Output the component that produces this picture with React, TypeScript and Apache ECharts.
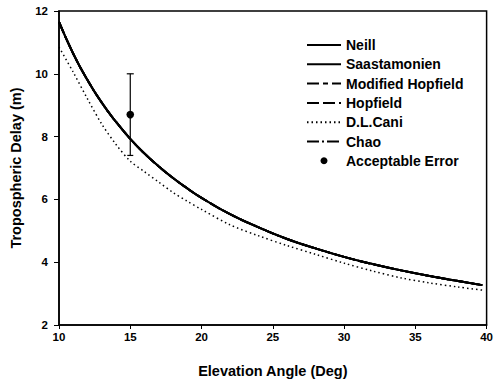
import React, { useEffect, useRef } from "react";
import * as echarts from "echarts";

// Elevation angles (deg) at which the curves were read
const angles = [10, 11, 12, 13, 14, 15, 16, 17, 18, 19, 20, 22, 24, 26, 28, 30, 32, 34, 36, 38, 39.7];
// Neill, Saastamonien, Modified Hopfield, Hopfield and Chao coincide on the plot
const neill = [11.65, 10.64, 9.8, 9.08, 8.47, 7.93, 7.46, 7.05, 6.68, 6.35, 6.05, 5.53, 5.11, 4.74, 4.44, 4.17, 3.94, 3.74, 3.56, 3.4, 3.27];
const saastamonien = [11.65, 10.64, 9.8, 9.08, 8.47, 7.93, 7.46, 7.05, 6.68, 6.35, 6.05, 5.53, 5.11, 4.74, 4.44, 4.17, 3.94, 3.74, 3.56, 3.4, 3.27];
const modifiedHopfield = [11.65, 10.64, 9.8, 9.08, 8.47, 7.93, 7.46, 7.05, 6.68, 6.35, 6.05, 5.53, 5.11, 4.74, 4.44, 4.17, 3.94, 3.74, 3.56, 3.4, 3.27];
const hopfield = [11.65, 10.64, 9.8, 9.08, 8.47, 7.93, 7.46, 7.05, 6.68, 6.35, 6.05, 5.53, 5.11, 4.74, 4.44, 4.17, 3.94, 3.74, 3.56, 3.4, 3.27];
const chao = [11.65, 10.64, 9.8, 9.08, 8.47, 7.93, 7.46, 7.05, 6.68, 6.35, 6.05, 5.53, 5.11, 4.74, 4.44, 4.17, 3.94, 3.74, 3.56, 3.4, 3.27];
const dlCani = [10.85, 10.05, 9.2, 8.4, 7.75, 7.22, 6.88, 6.55, 6.22, 5.94, 5.68, 5.19, 4.84, 4.53, 4.25, 3.97, 3.72, 3.5, 3.34, 3.21, 3.11];

// Acceptable error at 15 deg
const errAngle = [15];
const errCenter = [8.7];
const errLow = [7.4];
const errHigh = [10.0];

const xTicks = { min: 10, max: 40, interval: 5 };
const yTicks = { min: 2, max: 12, interval: 2 };

const FONT = "Liberation Sans";

function pairs(ys: number[]) {
  return angles.map((a, i) => [a, ys[i]]);
}

export default function App() {
  const ref = useRef<HTMLDivElement>(null);
  useEffect(() => {
    if (!ref.current) return;
    document.body.style.margin = "0";
    const chart = echarts.init(ref.current, undefined, { renderer: "svg" });
    const solid = (name: string, data: number[], type: any) => ({
      name,
      type: "line",
      data: pairs(data),
      symbol: "none",
      smooth: true,
      lineStyle: { color: "#000", width: 2, type },
      itemStyle: { color: "transparent" },
    });
    chart.setOption({
      animation: false,
      backgroundColor: "#fff",
      textStyle: { fontFamily: FONT },
      grid: {
        left: 56,
        right: 6,
        top: 11,
        bottom: 57,
        show: true,
        borderColor: "#000",
        borderWidth: 1.5,
        containLabel: false,
      },
      legend: {
        orient: "vertical",
        left: 306,
        top: 38,
        padding: 0,
        itemWidth: 34,
        itemHeight: 14,
        itemGap: 5.3,
        textStyle: { fontFamily: FONT, fontWeight: "bold", fontSize: 14, color: "#000" },
        data: [
          "Neill",
          "Saastamonien",
          "Modified Hopfield",
          "Hopfield",
          "D.L.Cani",
          "Chao",
          {
            name: "Acceptable Error",
            icon: "path://M0,0 M14,14 M7,3.5 A3.5,3.5 0 1,1 6.99,3.5 Z",
            itemStyle: { color: "#000" },
          },
        ],
      },
      xAxis: {
        type: "value",
        ...xTicks,
        name: "Elevation Angle (Deg)",
        nameLocation: "middle",
        nameGap: 38,
        nameTextStyle: { fontFamily: FONT, fontWeight: "bold", fontSize: 14.5, color: "#000" },
        axisLine: { lineStyle: { color: "#000", width: 1.5 } },
        axisTick: { show: true, inside: false, length: 4, lineStyle: { color: "#000" } },
        axisLabel: { fontFamily: FONT, fontWeight: "bold", fontSize: 11.5, color: "#000", margin: 6 },
        splitLine: { show: false },
      },
      yAxis: {
        type: "value",
        ...yTicks,
        name: "Tropospheric Delay (m)",
        nameLocation: "middle",
        nameGap: 36,
        nameRotate: 90,
        nameTextStyle: { fontFamily: FONT, fontWeight: "bold", fontSize: 14.5, color: "#000" },
        axisLine: { lineStyle: { color: "#000", width: 1.5 } },
        axisTick: { show: true, inside: false, length: 5, lineStyle: { color: "#000" } },
        axisLabel: { fontFamily: FONT, fontWeight: "bold", fontSize: 11.5, color: "#000", margin: 11 },
        splitLine: { show: false },
      },
      series: [
        solid("Neill", neill, "solid"),
        solid("Saastamonien", saastamonien, "solid"),
        solid("Modified Hopfield", modifiedHopfield, [12, 4, 5, 4]),
        solid("Hopfield", hopfield, [12, 4]),
        {
          name: "D.L.Cani",
          type: "line",
          data: pairs(dlCani),
          symbol: "none",
          smooth: 0.3,
          lineStyle: { color: "#000", width: 1.5, type: [1.5, 3] },
          itemStyle: { color: "transparent" },
        },
        solid("Chao", chao, [12, 3, 2, 3]),
        {
          name: "Acceptable Error",
          type: "custom",
          data: errAngle.map((a, i) => [a, errCenter[i], errLow[i], errHigh[i]]),
          itemStyle: { color: "#000" },
          renderItem: (params: any, api: any) => {
            const x = api.value(0);
            const c = api.coord([x, api.value(1)]);
            const lo = api.coord([x, api.value(2)]);
            const hi = api.coord([x, api.value(3)]);
            const st = { stroke: "#000", lineWidth: 1.2 };
            return {
              type: "group",
              children: [
                { type: "line", shape: { x1: hi[0], y1: hi[1], x2: lo[0], y2: lo[1] }, style: st },
                { type: "line", shape: { x1: hi[0] - 3.5, y1: hi[1], x2: hi[0] + 3.5, y2: hi[1] }, style: st },
                { type: "line", shape: { x1: lo[0] - 3, y1: lo[1], x2: lo[0] + 3, y2: lo[1] }, style: st },
                { type: "circle", shape: { cx: c[0], cy: c[1], r: 3.8 }, style: { fill: "#000" } },
              ],
            };
          },
        },
      ],
    });
    return () => chart.dispose();
  }, []);
  return <div ref={ref} style={{ width: 496, height: 383 }} />;
}
